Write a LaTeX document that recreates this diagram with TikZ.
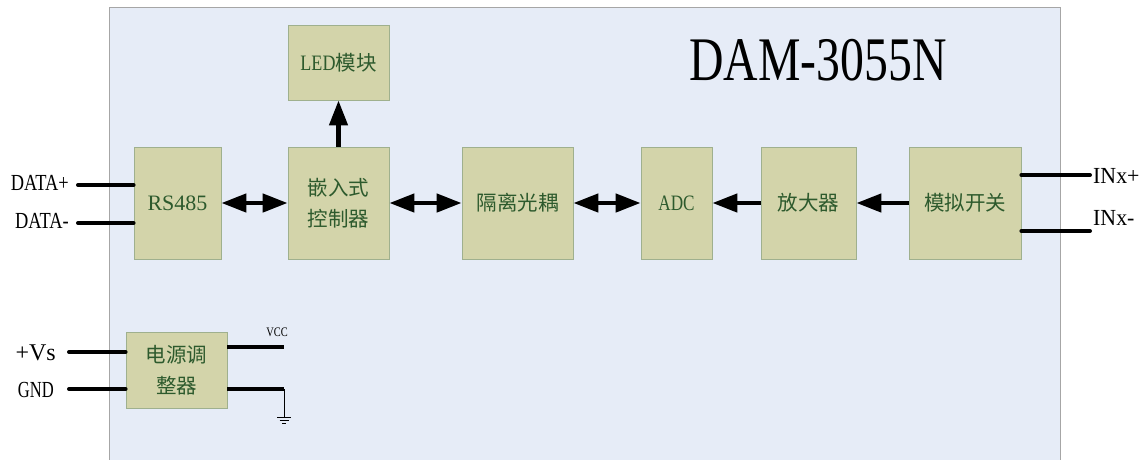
\documentclass[tikz,border=0pt]{standalone}
\usepackage{fontspec}
\usepackage{graphicx}
\setmainfont{Liberation Serif}
\newfontfamily\cjk{Noto Sans CJK SC}
\newfontfamily\lat{Liberation Serif}
\usetikzlibrary{arrows.meta}
\definecolor{panelfill}{HTML}{E6ECF7}
\definecolor{panelline}{HTML}{A6A6A6}
\definecolor{boxfill}{HTML}{D3D4AA}
\definecolor{boxline}{HTML}{9FB08E}
\definecolor{boxtext}{HTML}{2D5A2D}
\newcommand{\nar}[2][0.8]{\scalebox{#1}[1]{#2}}
\tikzset{
  blk/.style={draw=boxline, fill=boxfill, line width=0.8pt, inner sep=0pt,
    text=boxtext, font=\cjk\fontsize{20.5}{31}\selectfont, align=center},
  conn/.style={line width=4pt, line cap=round},
  bidir/.style={line width=4.5pt, {Triangle[length=25pt,width=18pt]}-{Triangle[length=25pt,width=18pt]}},
  unidir/.style={line width=4.5pt, -{Triangle[length=25pt,width=18pt]}},
  lbl/.style={inner sep=0pt, font=\lat\fontsize{23}{23}\selectfont},
}
\begin{document}
\begin{tikzpicture}[x=1pt,y=-1pt]
\useasboundingbox (0,0) rectangle (1146,459);
\fill[white] (0,0) rectangle (1146,459);
\draw[draw=panelline, fill=panelfill, line width=1pt] (109,7) rectangle (1060,475);

% blocks
\node[blk, minimum width=87pt, minimum height=112pt] (rs) at (177.5,203) {\lat\fontsize{22}{22}\selectfont RS485};
\node[blk, minimum width=101pt, minimum height=112pt] (mcu) at (338.5,203) {嵌入式\\控制器};
\node[blk, minimum width=101pt, minimum height=75pt] (led) at (338.5,62.5) {{\lat\fontsize{22}{22}\selectfont\nar[0.82]{LED}}模块};
\node[blk, minimum width=111pt, minimum height=112pt] (iso) at (517.5,203) {隔离光耦};
\node[blk, minimum width=71pt, minimum height=112pt] (adc) at (676.5,203) {\lat\fontsize{22}{22}\selectfont\nar[0.78]{ADC}};
\node[blk, minimum width=95pt, minimum height=112pt] (amp) at (808.5,203) {放大器};
\node[blk, minimum width=112pt, minimum height=112pt] (sw) at (965,203) {模拟开关};
\node[blk, minimum width=101pt, minimum height=76pt] (pwr) at (176.5,370) {电源调\\整器};

% title
\node[inner sep=0pt, font=\lat\fontsize{62}{62}\selectfont] (title) at (818,60) {\nar[0.77]{DAM-3055N}};

% arrows
\draw[bidir] (rs.east) -- (mcu.west);
\draw[bidir] (mcu.east) -- (iso.west);
\draw[bidir] (iso.east) -- (adc.west);
\draw[unidir] (amp.west) -- (adc.east);
\draw[unidir] (sw.west) -- (amp.east);
\draw[unidir] (mcu.north) -- (led.south);

% data lines
\coordinate (dp) at (78,185);
\coordinate (dm) at (78,223);
\draw[conn] (dp) -- (dp -| rs.west);
\draw[conn] (dm) -- (dm -| rs.west);
\node[lbl, anchor=east] (ldp) at (69,183) {\nar[0.8]{DATA+}};
\node[lbl, anchor=east] (ldm) at (69,221) {\nar[0.8]{DATA-}};

% input lines
\coordinate (ip) at (1090,175);
\coordinate (im) at (1090,231);
\draw[conn] (ip -| sw.east) -- (ip);
\draw[conn] (im -| sw.east) -- (im);
\node[lbl, anchor=west] (lip) at (1093,176) {\nar[0.95]{INx+}};
\node[lbl, anchor=west] (lim) at (1093,218) {\nar[0.95]{INx-}};

% power
\coordinate (vs) at (69,352);
\coordinate (gn) at (69,389);
\draw[conn] (vs) -- (vs -| pwr.west);
\draw[conn] (gn) -- (gn -| pwr.west);
\node[lbl, anchor=east, font=\lat\fontsize{24}{24}\selectfont] (lvs) at (56,353) {+Vs};
\node[lbl, anchor=east] (lgn) at (54,390) {\nar[0.72]{GND}};

\coordinate (vcc) at (284,347);
\coordinate (gr) at (284,389);
\draw[conn, line cap=butt] (vcc -| pwr.east) -- (vcc);
\draw[conn, line cap=butt] (gr -| pwr.east) -- (gr);
\node[inner sep=0pt, font=\lat\fontsize{13}{13}\selectfont] (lvcc) at (277,332) {\nar[0.8]{VCC}};
\coordinate (gsym) at (284,417);
\draw[line width=1pt] (gr) -- (gsym);
\draw[line width=1pt] ([xshift=-7pt]gsym) -- ([xshift=7pt]gsym);
\draw[line width=1pt] ([xshift=-4.5pt,yshift=-3pt]gsym) -- ([xshift=4.5pt,yshift=-3pt]gsym);
\draw[line width=1pt] ([xshift=-2pt,yshift=-6pt]gsym) -- ([xshift=2pt,yshift=-6pt]gsym);
\end{tikzpicture}
\end{document}
